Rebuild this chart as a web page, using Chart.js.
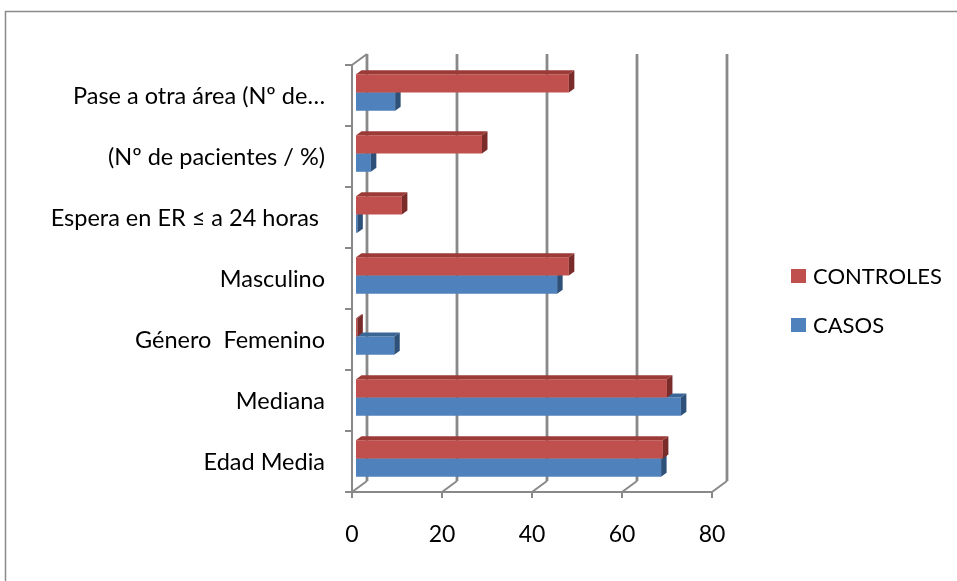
<!DOCTYPE html>
<html>
<head>
<meta charset="utf-8">
<script src="https://cdn.jsdelivr.net/npm/chart.js@4/dist/chart.umd.min.js"></script>
<style>
  html, body { margin: 0; padding: 0; background: #fff; }
  #wrap { width: 957px; height: 581px; position: relative; }
</style>
</head>
<body>
<div id="wrap"><canvas id="c" width="957" height="581"></canvas></div>
<script>
// Categories, listed from the top row down
const categories = [
  'Pase a otra área (Nº de…',
  '(Nº de pacientes / %)',
  'Espera en ER ≤ a 24 horas ',
  'Masculino',
  'Género  Femenino',
  'Mediana',
  'Edad Media'
];
const controles = [47.3, 28.0, 10.2, 47.3, 0.3, 69.1, 68.2];
const casos     = [8.7, 3.3, 0.3, 44.7, 8.5, 72.2, 67.8];
const xTicks = [0, 20, 40, 60, 80];

const FONT = 'Lato, "Open Sans", sans-serif';
const RED = '#C0504D', RED_TOP = '#9C3A37', RED_SIDE = '#7A2C2A';
const BLUE = '#4F81BD', BLUE_TOP = '#3B6797', BLUE_SIDE = '#2E5179';
const GRID = '#898989';

// offsets from the bar plane to the back wall and to the front edge of the floor
const BACK_DX = 11, BACK_DY = -8;
const FRONT_DX = -4, FRONT_DY = 3;
// depth of each bar
const BAR_DX = 5.5, BAR_DY = 4;

const walls = {
  id: 'walls',
  beforeDraw(chart) {
    const ctx = chart.ctx;
    ctx.save();
    ctx.strokeStyle = '#8A8A8A';
    ctx.lineWidth = 1.5;
    ctx.strokeRect(5.5, 11.5, 1200, 1200);
    ctx.restore();
  },
  beforeDatasetsDraw(chart) {
    const { ctx, chartArea: a, scales: { x, y } } = chart;
    ctx.save();
    ctx.strokeStyle = GRID;
    ctx.lineCap = 'butt';
    const x0 = x.getPixelForValue(0);
    // back wall gridlines
    ctx.lineWidth = 2.8;
    xTicks.forEach(v => {
      const px = x.getPixelForValue(v) + BACK_DX;
      ctx.beginPath();
      ctx.moveTo(px, a.top + BACK_DY);
      ctx.lineTo(px, a.bottom + BACK_DY);
      ctx.stroke();
    });
    // floor: diagonals, front edge and tick marks
    ctx.lineWidth = 2;
    xTicks.forEach(v => {
      const px = x.getPixelForValue(v);
      ctx.beginPath();
      ctx.moveTo(px + FRONT_DX, a.bottom + FRONT_DY);
      ctx.lineTo(px + BACK_DX, a.bottom + BACK_DY);
      ctx.moveTo(px + FRONT_DX, a.bottom + FRONT_DY);
      ctx.lineTo(px + FRONT_DX, a.bottom + FRONT_DY + 6);
      ctx.stroke();
    });
    ctx.beginPath();
    ctx.moveTo(x.getPixelForValue(xTicks[0]) + FRONT_DX - 1, a.bottom + FRONT_DY);
    ctx.lineTo(x.getPixelForValue(xTicks[xTicks.length - 1]) + FRONT_DX, a.bottom + FRONT_DY);
    ctx.stroke();
    // left wall: front edge, top diagonal and category ticks
    ctx.beginPath();
    ctx.moveTo(x0 + FRONT_DX, a.top + FRONT_DY);
    ctx.lineTo(x0 + FRONT_DX, a.bottom + FRONT_DY);
    ctx.moveTo(x0 + FRONT_DX, a.top + FRONT_DY);
    ctx.lineTo(x0 + BACK_DX, a.top + BACK_DY);
    ctx.stroke();
    const n = categories.length;
    const step = (a.bottom - a.top) / n;
    for (let k = 0; k <= n; k++) {
      const py = a.top + k * step + FRONT_DY;
      ctx.beginPath();
      ctx.moveTo(x0 + FRONT_DX - 7, py);
      ctx.lineTo(x0 + FRONT_DX, py);
      ctx.stroke();
    }
    ctx.restore();
  },
  afterDatasetDraw(chart, args) {
    const ctx = chart.ctx;
    const ds = chart.data.datasets[args.index];
    ctx.save();
    args.meta.data.forEach(el => {
      const p = el.getProps(['x', 'y', 'base', 'height'], true);
      const x0 = Math.min(p.x, p.base), x1 = Math.max(p.x, p.base);
      const t = p.y - p.height / 2, b = p.y + p.height / 2;
      // top face
      ctx.fillStyle = ds.topColor;
      ctx.beginPath();
      ctx.moveTo(x0, t);
      ctx.lineTo(x1, t);
      ctx.lineTo(x1 + BAR_DX, t - BAR_DY);
      ctx.lineTo(x0 + BAR_DX, t - BAR_DY);
      ctx.closePath();
      ctx.fill();
      // end face
      ctx.fillStyle = ds.sideColor;
      ctx.beginPath();
      ctx.moveTo(x1, t);
      ctx.lineTo(x1 + BAR_DX, t - BAR_DY);
      ctx.lineTo(x1 + BAR_DX, b - BAR_DY);
      ctx.lineTo(x1, b);
      ctx.closePath();
      ctx.fill();
    });
    ctx.restore();
  },
  afterDraw(chart) {
    // legend
    const ctx = chart.ctx;
    ctx.save();
    ctx.font = '22px ' + FONT;
    ctx.textBaseline = 'middle';
    ctx.textAlign = 'left';
    chart.data.datasets.forEach((ds, i) => {
      const yy = 276 + i * 49;
      ctx.fillStyle = ds.backgroundColor;
      ctx.fillRect(791, yy - 7, 15, 14);
      ctx.fillStyle = '#000';
      ctx.fillText(ds.label, 813, yy + 1);
    });
    ctx.restore();
  }
};

new Chart(document.getElementById('c'), {
  type: 'bar',
  data: {
    labels: categories,
    datasets: [
      { label: 'CONTROLES', data: controles, backgroundColor: RED, topColor: RED_TOP, sideColor: RED_SIDE,
        categoryPercentage: 0.6, barPercentage: 1.0, borderWidth: 0 },
      { label: 'CASOS', data: casos, backgroundColor: BLUE, topColor: BLUE_TOP, sideColor: BLUE_SIDE,
        categoryPercentage: 0.6, barPercentage: 1.0, borderWidth: 0 }
    ]
  },
  options: {
    indexAxis: 'y',
    responsive: false,
    animation: false,
    events: [],
    layout: { padding: { left: 0, top: 62, right: 241, bottom: 0 } },
    plugins: { legend: { display: false }, tooltip: { enabled: false } },
    scales: {
      x: {
        min: 0, max: 80,
        afterBuildTicks(scale) { scale.ticks = xTicks.map(v => ({ value: v })); },
        afterFit(scale) { scale.height = 92; },
        grid: { display: false, drawTicks: false, tickLength: 0 },
        border: { display: false },
        ticks: { padding: 32, labelOffset: FRONT_DX, color: '#000', font: { family: FONT, size: 23 } }
      },
      y: {
        afterFit(scale) { scale.width = 356; },
        grid: { display: false, drawTicks: false, tickLength: 0 },
        border: { display: false },
        ticks: { padding: 31, labelOffset: FRONT_DY + 1, color: '#000', font: { family: FONT, size: 23.5 }, autoSkip: false }
      }
    }
  },
  plugins: [walls]
});
</script>
</body>
</html>
